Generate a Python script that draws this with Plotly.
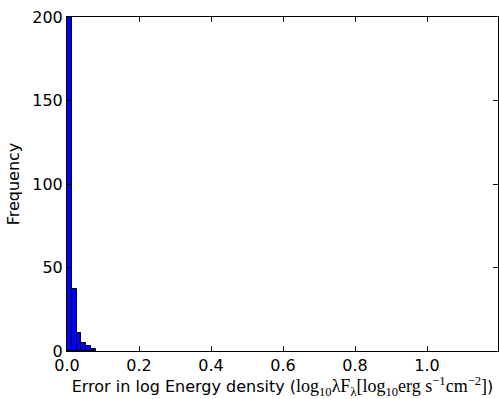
import plotly.graph_objects as go

bin_width = 0.0133
bin_starts = [0.0, 0.0133, 0.0266, 0.0399, 0.0532, 0.0665]
counts = [200, 37, 11, 5, 3, 1]
x_ticks = [0.0, 0.2, 0.4, 0.6, 0.8, 1.0]
x_tick_labels = ["0.0", "0.2", "0.4", "0.6", "0.8", "1.0"]
y_ticks = [0, 50, 100, 150, 200]

centers = [s + bin_width / 2 for s in bin_starts]

fig = go.Figure()
fig.add_trace(go.Bar(
    x=centers, y=counts, width=[bin_width] * len(counts),
    marker=dict(color="#0000ff", line=dict(color="black", width=1)),
))

serif = "font-family:'Liberation Serif','DejaVu Serif',serif;font-size:18px"
xtitle = ("Error in log Energy density (<span style=\"" + serif + "\">log<sub>10</sub>λF<sub>λ</sub>"
          "[log<sub>10</sub>erg s<sup>−1</sup>cm<sup>−2</sup>]</span>)")

axis_common = dict(
    showgrid=False, zeroline=False, showline=True, linecolor="black", linewidth=1,
    mirror="ticks", ticks="inside", ticklen=5, tickcolor="black",
    tickfont=dict(size=16, color="black", family="DejaVu Sans"),
)

fig.update_layout(
    width=499, height=399,
    margin=dict(l=67, r=1, t=17, b=48),
    plot_bgcolor="white", paper_bgcolor="white",
    showlegend=False, bargap=0,
    font=dict(family="DejaVu Sans", size=16, color="black"),
    xaxis=dict(range=[0, 1.197], tickvals=x_ticks, ticktext=x_tick_labels,
               title=dict(text=xtitle, font=dict(size=16), standoff=0), **axis_common),
    yaxis=dict(range=[0, 200], tickvals=y_ticks,
               title=dict(text="Frequency", font=dict(size=16), standoff=8), **axis_common),
)

fig.write_html("out.html")
